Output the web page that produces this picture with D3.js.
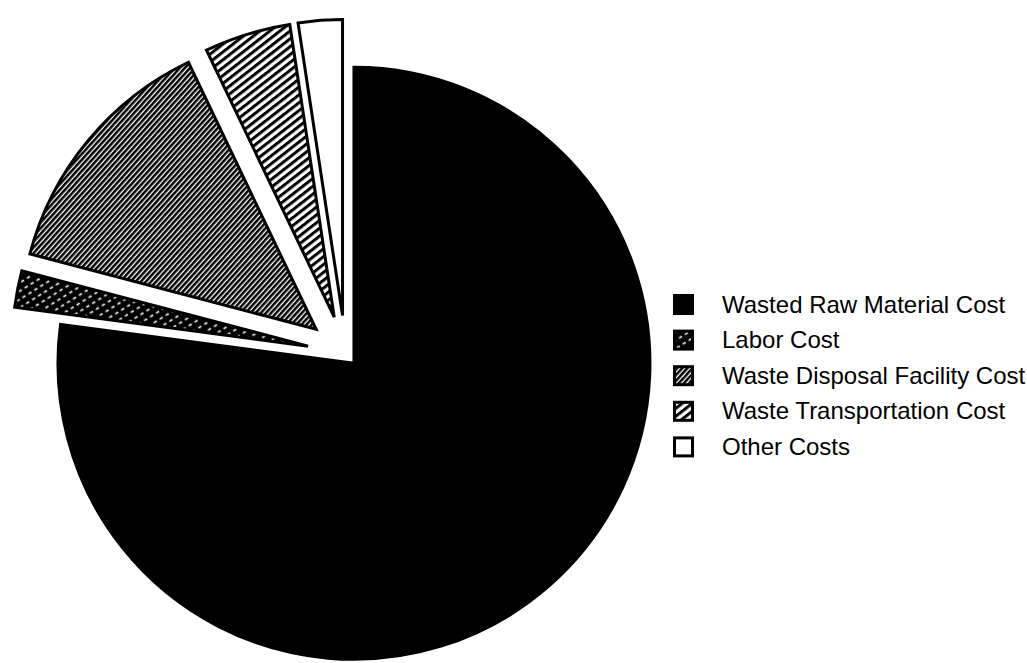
<!DOCTYPE html>
<html><head><meta charset="utf-8">
<script src="https://cdn.jsdelivr.net/npm/d3@7"></script>
<style>body{margin:0;background:#fff}svg{display:block}</style>
</head><body>
<svg id="chart" width="1027" height="663"></svg>
<script>
const categories = ["Wasted Raw Material Cost","Labor Cost","Waste Disposal Facility Cost","Waste Transportation Cost","Other Costs"];
const values = [77.1, 2.0, 13.8, 4.7, 2.4];
const fills = ["#000","url(#pLabor)","url(#pDisposal)","url(#pTransport)","#fff"];

const svg = d3.select("#chart");
const defs = svg.append("defs");

// Labor: black with white dashes along rising diagonals
const pl = defs.append("pattern").attr("id","pLabor").attr("patternUnits","userSpaceOnUse")
  .attr("width",7).attr("height",7).attr("patternTransform","rotate(-32)");
pl.append("rect").attr("width",7).attr("height",7).attr("fill","#000");
pl.append("line").attr("x1",0.5).attr("x2",4).attr("y1",3.5).attr("y2",3.5).attr("stroke","#fff").attr("stroke-width",1.6);

// Disposal: dense fine diagonal stripes
const pd = defs.append("pattern").attr("id","pDisposal").attr("patternUnits","userSpaceOnUse")
  .attr("width",10).attr("height",3.8).attr("patternTransform","rotate(-48)");
pd.append("rect").attr("width",10).attr("height",3.8).attr("fill","#fff");
pd.append("rect").attr("width",10).attr("height",2.5).attr("fill","#000");

// Transport: bolder diagonal stripes
const pt = defs.append("pattern").attr("id","pTransport").attr("patternUnits","userSpaceOnUse")
  .attr("width",10).attr("height",6.2).attr("patternTransform","rotate(-38)");
pt.append("rect").attr("width",10).attr("height",6.2).attr("fill","#fff");
pt.append("rect").attr("width",10).attr("height",3).attr("fill","#000");

const cx = 345.4, cy = 353.5, R = 296;
const explode = [13, 38, 38, 38, 38];

const pie = d3.pie().sort(null).value(d => d)(values);
const arc = d3.arc().innerRadius(0).outerRadius(R);

const g = svg.append("g").attr("transform",`translate(${cx},${cy})`);
g.selectAll("path").data(pie).join("path")
  .attr("transform",(d,i)=>{
    const a = (d.startAngle + d.endAngle)/2;
    return `translate(${Math.sin(a)*explode[i]},${-Math.cos(a)*explode[i]})`;
  })
  .attr("d",arc)
  .attr("fill",(d,i)=>fills[i])
  .attr("stroke","#000").attr("stroke-width",3).attr("stroke-linejoin","miter");

// Legend
const lg = svg.append("g").attr("transform","translate(673,294)");
const rows = lg.selectAll("g").data(categories).join("g")
  .attr("transform",(d,i)=>`translate(0,${i*35.6})`);
rows.append("rect").attr("x",1.5).attr("y",1.5).attr("width",18).attr("height",18)
  .attr("fill",(d,i)=>fills[i]).attr("stroke","#000").attr("stroke-width",3);
rows.append("text").attr("x",49).attr("y",18.5)
  .attr("font-family","Liberation Sans, Arial, sans-serif").attr("font-size",24)
  .attr("fill","#000").text(d=>d);
</script>
</body></html>
